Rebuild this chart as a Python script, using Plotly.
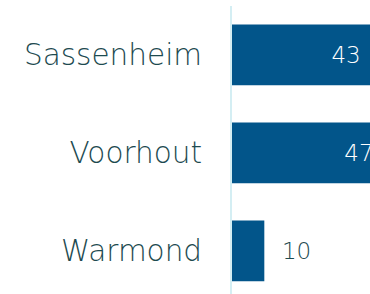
import plotly.graph_objects as go

categories = ["Sassenheim", "Voorhout", "Warmond"]
values = [43, 47, 10]
text_positions = ["inside", "inside", "outside"]

bar_color = "#02558a"
label_color = "#1d4a50"
axis_color = "#d4eef3"
font_family = "'DejaVu Sans', sans-serif"

nb = "\u00a0"
templates = [
    "%{x}" + nb if p == "inside" else nb * 2 + "%{x}"
    for p in text_positions
]

fig = go.Figure(
    go.Bar(
        y=categories,
        x=values,
        orientation="h",
        marker=dict(color=bar_color, line=dict(width=0)),
        texttemplate=templates,
        textposition=text_positions,
        insidetextfont=dict(color="white", size=23, family=font_family, weight=200),
        outsidetextfont=dict(color=label_color, size=23, family=font_family, weight=200),
        insidetextanchor="end",
        cliponaxis=True,
        hoverinfo="skip",
    )
)

fig.update_layout(
    width=370,
    height=294,
    margin=dict(l=232, r=0, t=6, b=0, pad=0),
    paper_bgcolor="white",
    plot_bgcolor="white",
    bargap=0.38,
    showlegend=False,
    font=dict(family=font_family, color=label_color),
)

fig.update_xaxes(
    range=[0, 42.7],
    visible=False,
    showgrid=False,
    zeroline=False,
)

fig.update_yaxes(
    range=[2.44, -0.5],
    showline=True,
    linecolor=axis_color,
    linewidth=2,
    showgrid=False,
    zeroline=False,
    ticks="",
    ticklabelstandoff=22,
    tickfont=dict(size=29.5, family=font_family, color=label_color, weight=200),
)

fig.write_html(
    "out.html",
    config={"displayModeBar": False},
    post_script="document.body.style.margin='0';document.body.style.overflow='hidden';",
)
